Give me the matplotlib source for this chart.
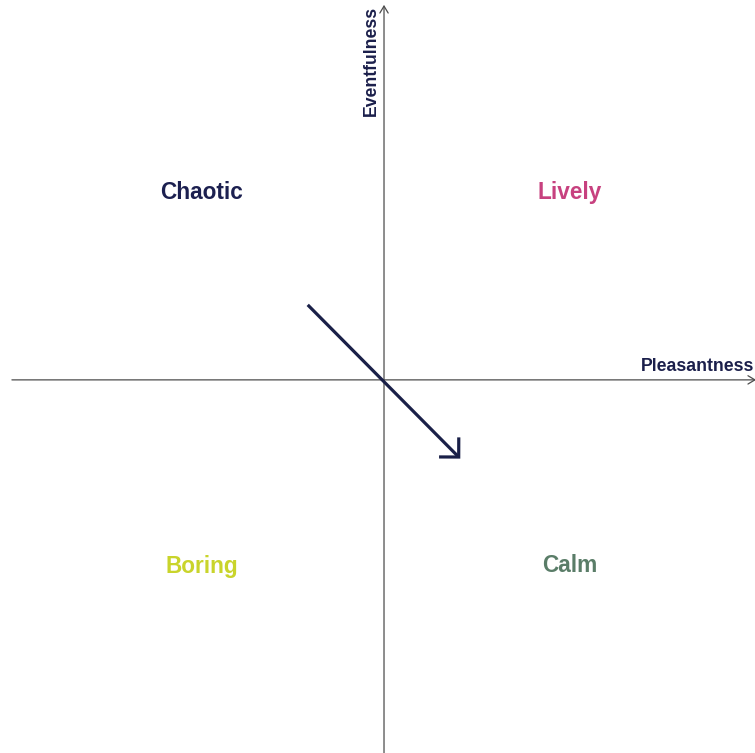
import matplotlib
matplotlib.use("Agg")
import matplotlib.pyplot as plt
from matplotlib.patches import FancyArrowPatch

# Data
quadrant_labels = ["Chaotic", "Lively", "Boring", "Calm"]
quadrant_x = [-0.49, 0.50, -0.49, 0.50]
quadrant_y = [0.50, 0.50, -0.497, -0.495]
quadrant_colors = ["#1c2050", "#c7417f", "#c9d42b", "#5a7d68"]
arrow_start = (-0.205, 0.20)
arrow_end = (0.205, -0.21)
x_axis_label = "Pleasantness"
y_axis_label = "Eventfulness"

navy = "#1b1f4b"
plt.rcParams['font.family'] = ['Liberation Sans', 'DejaVu Sans']

fig = plt.figure(figsize=(7.55, 7.53), dpi=100)
ax = fig.add_axes([0, 0, 1, 1])
ax.set_xlim(-1.032, 0.997)
ax.set_ylim(-0.995, 1.013)
ax.axis("off")

# Axes lines with arrows
ax.add_patch(FancyArrowPatch((-1.0, 0), (1.0, 0), arrowstyle="->,head_length=0.5,head_width=0.3",
                             mutation_scale=10, color="#4d4d4d", lw=0.9, shrinkA=0, shrinkB=0))
ax.add_patch(FancyArrowPatch((0, -1.0), (0, 1.0), arrowstyle="->,head_length=0.5,head_width=0.3",
                             mutation_scale=10, color="#4d4d4d", lw=0.9, shrinkA=0, shrinkB=0))

ax.text(0.994, 0.012, x_axis_label, ha="right", va="bottom", fontsize=12.7,
        fontweight="bold", color=navy)
ax.text(-0.012, 0.996, y_axis_label, ha="right", va="top", rotation=90, fontsize=12.7,
        fontweight="bold", color=navy)

for lab, x, y, c in zip(quadrant_labels, quadrant_x, quadrant_y, quadrant_colors):
    ax.text(x, y, lab, ha="center", va="center", fontsize=16.3, fontweight="bold", color=c)

ax.add_patch(FancyArrowPatch(arrow_start, arrow_end, arrowstyle="->,head_length=1.0,head_width=1.0",
                             mutation_scale=10, color="#1a2048", lw=2.3, shrinkA=0, shrinkB=0,
                             capstyle="butt", joinstyle="miter"))

fig.savefig("out.png", dpi=100)
